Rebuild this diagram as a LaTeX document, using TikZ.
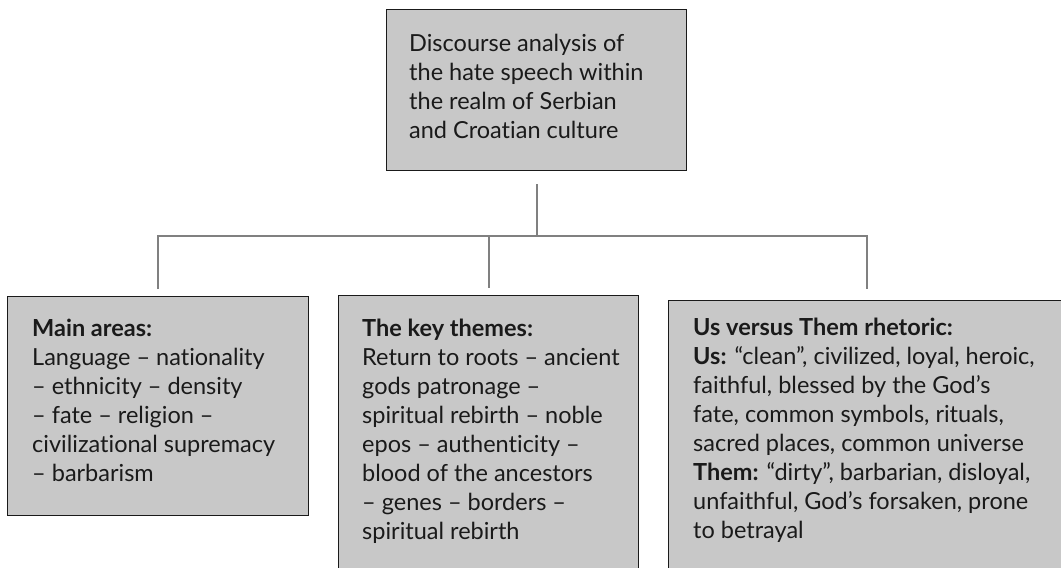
\documentclass[tikz,border=0pt]{standalone}
\usepackage{fontspec}
\setmainfont{Lato}[Ligatures={NoCommon}]
\definecolor{boxfill}{HTML}{C8C8C8}
\definecolor{boxline}{HTML}{1A1A1A}
\definecolor{linkcol}{HTML}{808080}
\definecolor{textcol}{HTML}{1A1A1A}
\newcommand{\ndash}{\hbox to 0.55em{\hss–\hss}}
\begin{document}
\begin{tikzpicture}[x=1pt,y=-1pt,
  box/.style={draw=boxline, line width=1.4pt, fill=boxfill, inner sep=0pt, anchor=north west},
  txt/.style={inner sep=0pt, anchor=north west, align=left, text=textcol,
    font=\fontsize{23.5}{29}\selectfont},
  link/.style={draw=linkcol, line width=2pt}]
\useasboundingbox (0,0) rectangle (1061,568);
\clip (0,0) rectangle (1061,568);
% boxes
\node[box, minimum width=300, minimum height=161] (root) at (386,9) {};
\node[box, minimum width=301, minimum height=219] (areas) at (7,296) {};
\node[box, minimum width=300, minimum height=300] (themes) at (338,295) {};
\node[box, minimum width=396, minimum height=300] (rhet) at (668,300) {};
% texts
\node[txt] (roottxt) at (409,34) {Discourse analysis of\\the hate speech within\\the realm of Serbian\\and Croatian culture};
\node[txt] (areastxt) at (32,319) {\textbf{Main areas:}\\Language – nationality\\– ethnicity – density\\– fate – religion –\\civilizational supremacy\\– barbarism};
\node[txt] (themestxt) at (362,319) {\textbf{The key themes:}\\Return to roots – ancient\\gods patronage –\\spiritual rebirth – noble\\epos – authenticity –\\blood of the ancestors\\– genes – borders –\\spiritual rebirth};
\node[txt] (rhettxt) at (693,318) {\textbf{Us versus Them rhetoric:}\\\textbf{Us:} “clean”, civilized, loyal, heroic,\\faithful, blessed by the God’s\\fate, common symbols, rituals,\\sacred places, common universe\\\textbf{Them:} “dirty”, barbarian, disloyal,\\unfaithful, God’s forsaken, prone\\to betrayal};
% connectors
\coordinate (bus) at (536,236);
\draw[link] ([yshift=-13pt]root.south) -- (root.south |- bus);
\draw[link] ([yshift=7pt]areas.north) -- (areas.north |- bus) -- (rhet.north |- bus) -- ([yshift=11pt]rhet.north);
\draw[link] (themes.north |- bus) -- ([yshift=7pt]themes.north);
\end{tikzpicture}
\end{document}
